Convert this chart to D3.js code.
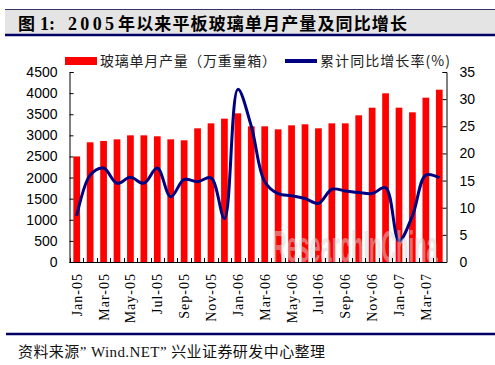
<!DOCTYPE html>
<html><head><meta charset="utf-8">
<script src="https://cdn.jsdelivr.net/npm/d3@7/dist/d3.min.js"></script>
<style>
html,body{margin:0;padding:0;background:#fff;}
svg{display:block;}
</style></head>
<body>
<svg id="c" width="495" height="365"></svg>
<script>
const months = ["Jan-05","Feb-05","Mar-05","Apr-05","May-05","Jun-05","Jul-05","Aug-05","Sep-05","Oct-05","Nov-05","Dec-05",
"Jan-06","Feb-06","Mar-06","Apr-06","May-06","Jun-06","Jul-06","Aug-06","Sep-06","Oct-06","Nov-06","Dec-06",
"Jan-07","Feb-07","Mar-07","Apr-07"];
const output = [2500,2835,2866,2905,3000,3000,2977,2905,2882,3166,3284,3395,
3521,3213,3213,3142,3237,3261,3166,3284,3284,3474,3655,3995,
3655,3545,3892,4081];
const growth = [8.5,16.0,17.3,14.5,15.6,14.5,17.3,12.0,15.2,14.8,15.5,8.0,
31.8,25.0,14.8,12.6,12.2,11.7,10.8,13.4,13.1,12.8,12.6,13.7,
3.9,8.5,16.0,15.5];
const leftTicks = [0,500,1000,1500,2000,2500,3000,3500,4000,4500];
const rightTicks = [0,5,10,15,20,25,30,35];
const tickLabels = months.filter((d,i)=>i%2===0);
const titleText = "年以来平板玻璃单月产量及同比增长";
const legendBar = "玻璃单月产量（万重量箱）";
const legendLine = "累计同比增长率(%)";
const sourceText = "资料来源” Wind.NET” 兴业证券研发中心整理";

const svg = d3.select("#c");
const L = 70, R = 446, T = 72, B = 262;

// title band
svg.append("rect").attr("x",5).attr("y",9).attr("width",490).attr("height",26).attr("fill","#e4e4e4");
svg.append("line").attr("x1",5).attr("x2",495).attr("y1",9.5).attr("y2",9.5).attr("stroke","#333366").attr("stroke-width",1);
svg.append("line").attr("x1",5).attr("x2",495).attr("y1",35).attr("y2",35).attr("stroke","#000066").attr("stroke-width",2.5);
const tf = "'Liberation Serif','Noto Sans CJK SC',serif";
svg.append("text").attr("x",18).attr("y",30).attr("font-family","'Noto Sans CJK SC'").attr("font-weight","bold").attr("font-size",17).text("图");
svg.append("text").attr("x",40).attr("y",30).attr("font-family",tf).attr("font-weight","bold").attr("font-size",18).text("1:");
svg.append("text").attr("x",68).attr("y",30).attr("font-family",tf).attr("font-weight","bold").attr("font-size",18)
  .attr("textLength",46).attr("lengthAdjust","spacing").text("2005");
svg.append("text").attr("x",118).attr("y",30).attr("font-family","'Noto Sans CJK SC'").attr("font-weight","bold").attr("font-size",17)
  .attr("textLength",289).attr("lengthAdjust","spacing").text(titleText);

// scales
const x = d3.scaleBand().domain(months).range([L,R]).paddingInner(0.5).paddingOuter(0.25);
const yL = d3.scaleLinear().domain([0,4500]).range([B,T]);
const yR = d3.scaleLinear().domain([0,35]).range([B,T]);

// bars
svg.append("g").selectAll("rect").data(output).join("rect")
  .attr("x",(d,i)=>x(months[i])).attr("width",x.bandwidth())
  .attr("y",d=>yL(d)).attr("height",d=>B-yL(d)).attr("fill","#ff0000");

// line
const line = d3.line().x((d,i)=>x(months[i])+x.bandwidth()/2).y(d=>yR(d)).curve(d3.curveCatmullRom.alpha(0.5));
svg.append("path").datum(growth).attr("d",line).attr("fill","none").attr("stroke","#000080").attr("stroke-width",3).attr("stroke-linejoin","round");

// watermark (kept inside the plot area, scaled by transform)
const wm = svg.append("text").attr("font-family","'Liberation Sans Narrow','Liberation Sans',sans-serif")
  .attr("font-weight","bold").attr("font-size",44)
  .attr("fill","#d6d6d6").attr("opacity",0.5).text("ResearchInChina");
const wmW = wm.node().getComputedTextLength();
wm.attr("transform",`translate(272,262) scale(${166/wmW},1)`);

// axes
const af = "'Liberation Sans',Arial,sans-serif";
const gl = svg.append("g").attr("transform",`translate(${L-0.5},0)`)
  .call(d3.axisLeft(yL).tickValues(leftTicks).tickFormat(d3.format("d")).tickSize(-4).tickPadding(12));
gl.select(".domain").attr("stroke","#000");
gl.selectAll("text").attr("font-family",af).attr("font-size",14).attr("fill","#000");
const gr = svg.append("g").attr("transform",`translate(${R+0.5},0)`)
  .call(d3.axisRight(yR).tickValues(rightTicks).tickFormat(d3.format("d")).tickSize(-4).tickPadding(13));
gr.selectAll("text").attr("font-family",af).attr("font-size",14).attr("fill","#000");
// bottom axis line with inward ticks at band boundaries
svg.append("line").attr("x1",L-0.5).attr("x2",R+0.5).attr("y1",B+0.5).attr("y2",B+0.5).attr("stroke","#000");
svg.append("g").selectAll("line").data(months).join("line")
  .attr("x1",d=>Math.round(x(d)-x.bandwidth()/2)+0.5).attr("x2",d=>Math.round(x(d)-x.bandwidth()/2)+0.5)
  .attr("y1",B).attr("y2",B-4).attr("stroke","#000");
// x labels
svg.append("g").selectAll("text").data(tickLabels).join("text")
  .attr("transform",d=>`translate(${x(d)+x.bandwidth()/2+5},273) rotate(-90)`)
  .attr("text-anchor","end").attr("font-family","'Liberation Serif',serif").attr("font-size",14)
  .attr("letter-spacing",1).attr("fill","#000").text(d=>d);

// legend
const lf = "'Noto Sans CJK SC',sans-serif";
svg.append("rect").attr("x",65).attr("y",57).attr("width",32).attr("height",8).attr("fill","#ff0000");
svg.append("text").attr("x",100).attr("y",66).attr("font-family",lf).attr("font-size",14).attr("fill","#222")
  .attr("textLength",176).attr("lengthAdjust","spacing").text(legendBar);
svg.append("line").attr("x1",285).attr("x2",317).attr("y1",61).attr("y2",61).attr("stroke","#000080").attr("stroke-width",4);
svg.append("text").attr("x",320).attr("y",66).attr("font-family",lf).attr("font-size",14).attr("fill","#222")
  .attr("textLength",130).attr("lengthAdjust","spacing").text(legendLine);

// footer
svg.append("line").attr("x1",6).attr("x2",495).attr("y1",334).attr("y2",334).attr("stroke","#000066").attr("stroke-width",2.5);
svg.append("text").attr("x",18).attr("y",357).attr("font-family","'Liberation Serif','Noto Sans CJK SC',serif").attr("font-size",15)
  .attr("fill","#111").attr("textLength",307).attr("lengthAdjust","spacing").text(sourceText);
</script>
</body></html>
